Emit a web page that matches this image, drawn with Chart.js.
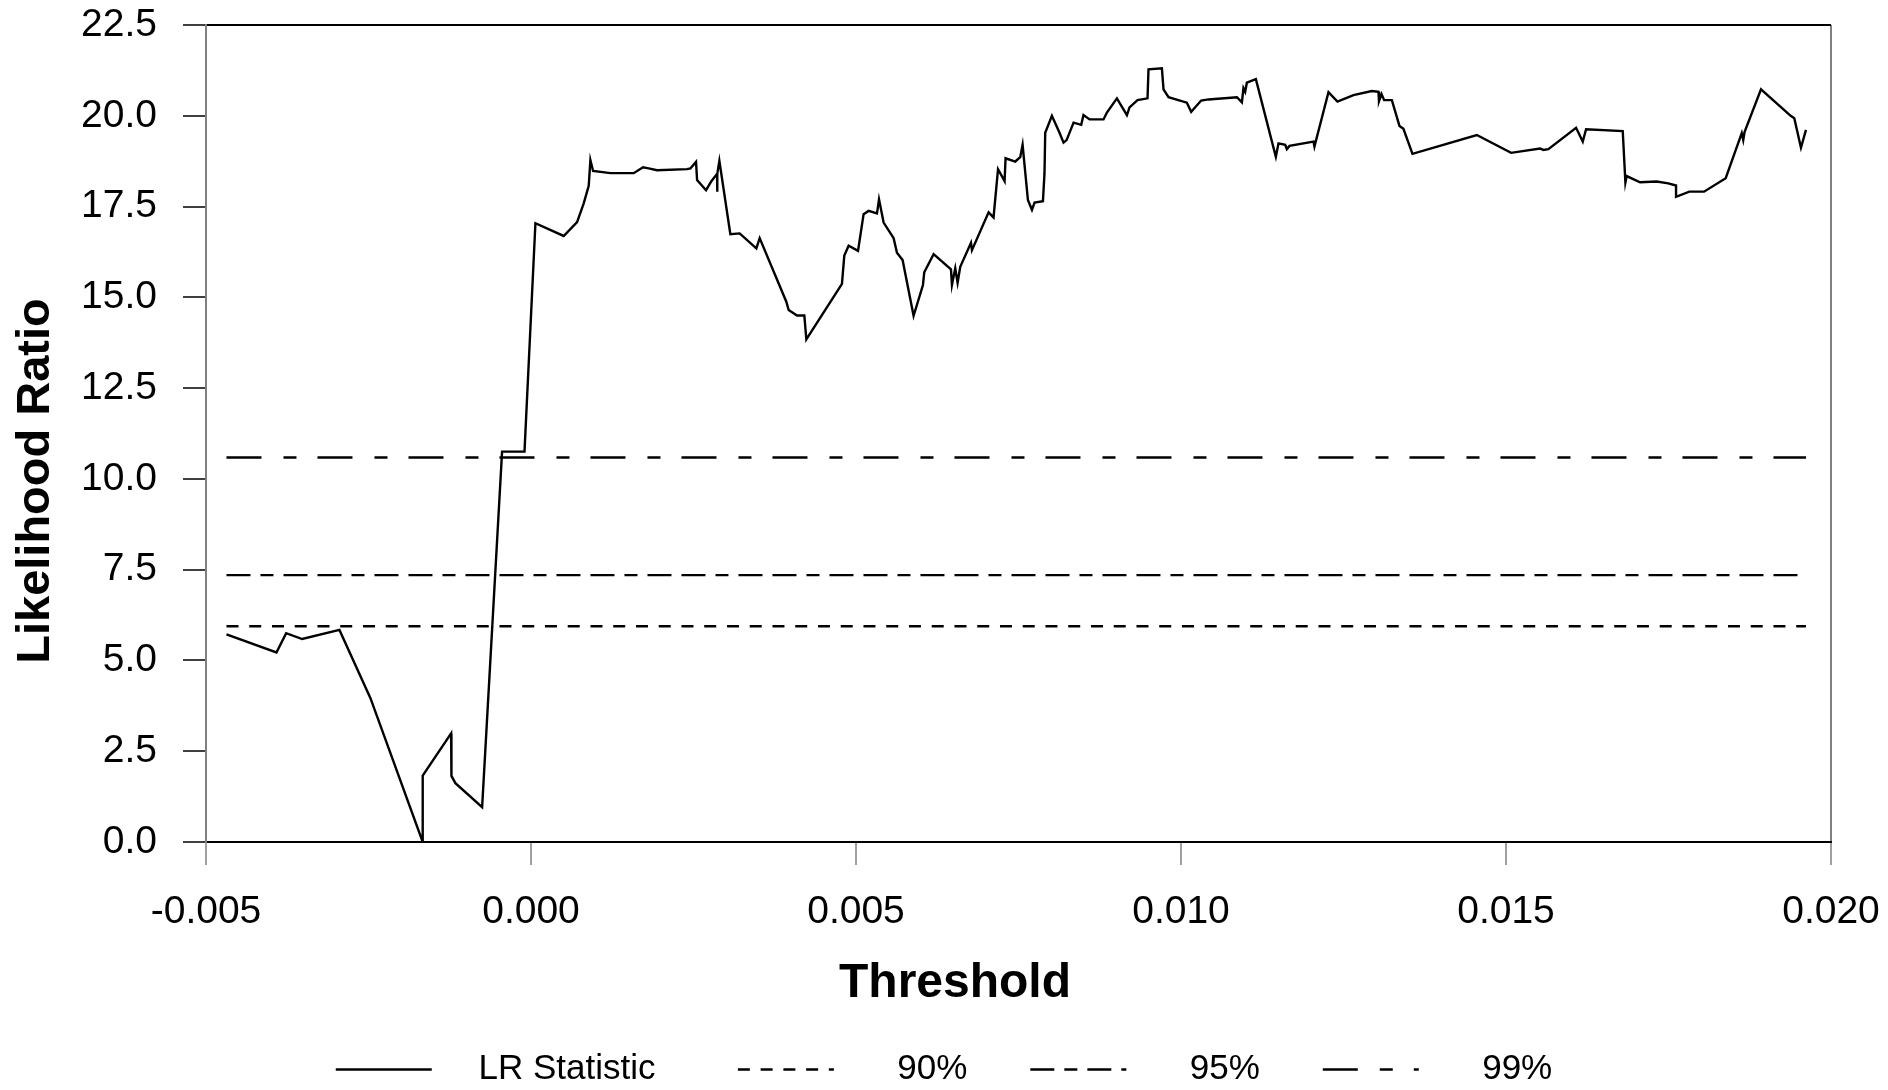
<!DOCTYPE html>
<html>
<head>
<meta charset="utf-8">
<script src="https://cdn.jsdelivr.net/npm/chart.js@4.4.1/dist/chart.umd.min.js"></script>
<style>
  html, body { margin: 0; padding: 0; background: #ffffff; }
  #wrap { width: 1888px; height: 1090px; }
</style>
</head>
<body>
<div id="wrap"><canvas id="chart" width="1888" height="1090"></canvas></div>
<script>
// ---------------- data ----------------
const thresholds = [
  -0.004685, -0.003916, -0.003767, -0.003520, -0.002947, -0.002470, -0.001666, -0.001666,
  -0.001229, -0.001224, -0.001163, -0.000752, -0.000445, -0.000100, 0.000068, 0.000503,
  0.000709, 0.000811, 0.000888, 0.000914, 0.000955, 0.001221, 0.001580, 0.001724,
  0.001810, 0.001940, 0.002401, 0.002452, 0.002539, 0.002555, 0.002693, 0.002775,
  0.002862, 0.002862, 0.002870, 0.002898, 0.003067, 0.003210, 0.003467, 0.003518,
  0.003928, 0.003964, 0.004092, 0.004205, 0.004236, 0.004784, 0.004820, 0.004887,
  0.005031, 0.005117, 0.005194, 0.005323, 0.005354, 0.005425, 0.005579, 0.005630,
  0.005717, 0.005886, 0.006030, 0.006050, 0.006194, 0.006461, 0.006476, 0.006527,
  0.006563, 0.006604, 0.006769, 0.006784, 0.007040, 0.007116, 0.007185, 0.007286,
  0.007301, 0.007450, 0.007527, 0.007563, 0.007645, 0.007707, 0.007747, 0.007876,
  0.007900, 0.007911, 0.008014, 0.008131, 0.008193, 0.008240, 0.008347, 0.008465,
  0.008500, 0.008593, 0.008808, 0.008860, 0.009014, 0.009168, 0.009208, 0.009331,
  0.009485, 0.009500, 0.009706, 0.009731, 0.009808, 0.010090, 0.010157, 0.010310,
  0.010423, 0.010860, 0.010937, 0.010961, 0.010987, 0.011013, 0.011152, 0.011459,
  0.011500, 0.011603, 0.011629, 0.011669, 0.012038, 0.012053, 0.012269, 0.012407,
  0.012653, 0.012936, 0.013038, 0.013046, 0.013085, 0.013125, 0.013244, 0.013361,
  0.013422, 0.013561, 0.014551, 0.015078, 0.015524, 0.015575, 0.015652, 0.016078,
  0.016181, 0.016232, 0.016796, 0.016837, 0.016857, 0.017062, 0.017319, 0.017497,
  0.017616, 0.017616, 0.017820, 0.018047, 0.018380, 0.018627, 0.018650, 0.018670,
  0.018923, 0.019380, 0.019435, 0.019538, 0.019615
];
const lrStatistic = [
  5.72, 5.22, 5.75, 5.59, 5.84, 3.96, 0.00, 1.83,
  2.99, 1.82, 1.62, 0.96, 10.75, 10.75, 17.04, 16.69,
  17.07, 17.59, 18.07, 18.78, 18.48, 18.42, 18.42, 18.58,
  18.55, 18.50, 18.53, 18.55, 18.73, 18.23, 17.95, 18.20,
  18.40, 17.91, 18.40, 18.76, 16.74, 16.76, 16.35, 16.63,
  14.88, 14.65, 14.50, 14.50, 13.84, 15.37, 16.15, 16.42,
  16.28, 17.29, 17.38, 17.31, 17.70, 17.06, 16.63, 16.23,
  16.03, 14.49, 15.34, 15.69, 16.19, 15.77, 15.34, 15.80,
  15.40, 15.84, 16.50, 16.30, 17.34, 17.20, 18.53, 18.20,
  18.83, 18.74, 18.86, 19.20, 17.68, 17.41, 17.61, 17.65,
  18.42, 19.53, 20.00, 19.53, 19.26, 19.33, 19.81, 19.75,
  20.02, 19.90, 19.90, 20.09, 20.48, 20.02, 20.23, 20.43,
  20.48, 21.28, 21.31, 20.73, 20.51, 20.36, 20.11, 20.42,
  20.45, 20.51, 20.37, 20.76, 20.66, 20.91, 21.01, 18.87,
  19.24, 19.20, 19.08, 19.17, 19.29, 19.15, 20.65, 20.39,
  20.57, 20.68, 20.66, 20.40, 20.60, 20.43, 20.43, 19.72,
  19.64, 18.95, 19.47, 18.98, 19.10, 19.06, 19.08, 19.67,
  19.29, 19.63, 19.58, 18.16, 18.34, 18.17, 18.19, 18.14,
  18.08, 17.77, 17.91, 17.91, 18.28, 19.52, 19.33, 19.55,
  20.73, 20.00, 19.93, 19.12, 19.61
];
const seriesLabels = ['LR Statistic', '90%', '95%', '99%'];
const criticalValues = [5.94, 7.35, 10.59];   // 90%, 95%, 99%
const xTicks = [-0.005, 0.000, 0.005, 0.010, 0.015, 0.020];
const yTicks = [0, 2.5, 5, 7.5, 10, 12.5, 15, 17.5, 20, 22.5];
const xTitle = 'Threshold';
const yTitle = 'Likelihood Ratio';

// ---------------- styles ----------------
const FONT = '"Liberation Sans", Arial, Helvetica, sans-serif';
const LINE_W = 2.4;
const dashes = [[], [12, 10.75], [24, 10, 13, 10, 24, 10], [35, 22, 13, 21]];
const legendPrefix = ['   ', '    \u2009', '    \u2009', '    \u2009'];
const legendSuffix = ['  ', '', '', ''];

Chart.defaults.font.family = FONT;
Chart.defaults.color = '#000000';

const lrPoints = thresholds.map((t, i) => ({ x: t, y: lrStatistic[i] }));
const xFirst = thresholds[0];
const xLast = thresholds[thresholds.length - 1];

const datasets = [{
  label: seriesLabels[0],
  data: lrPoints,
  borderColor: '#000000',
  backgroundColor: '#000000',
  borderWidth: LINE_W,
  borderDash: dashes[0],
  pointRadius: 0,
  tension: 0
}];
criticalValues.forEach((cv, i) => {
  datasets.push({
    label: seriesLabels[i + 1],
    data: [{ x: xFirst, y: cv }, { x: xLast, y: cv }],
    borderColor: '#000000',
    backgroundColor: '#000000',
    borderWidth: LINE_W,
    borderDash: dashes[i + 1],
    pointRadius: 0,
    tension: 0
  });
});

const axisTitles = {
  id: 'axisTitles',
  afterDraw(chart) {
    const ctx = chart.ctx;
    const a = chart.chartArea;
    ctx.save();
    ctx.fillStyle = '#000000';
    ctx.textAlign = 'center';
    ctx.textBaseline = 'alphabetic';
    ctx.font = 'bold 48px ' + FONT;
    ctx.fillText(xTitle, a.left + 749, a.bottom + 154.5);
    ctx.translate(49, a.top + 456);
    ctx.rotate(-Math.PI / 2);
    ctx.font = 'bold 47px ' + FONT;
    ctx.fillText(yTitle, 0, 0);
    ctx.restore();
  }
};

const isVal = (c, v) => c.tick && Math.abs(c.tick.value - v) < 1e-9;

new Chart(document.getElementById('chart'), {
  type: 'line',
  data: { datasets },
  options: {
    responsive: false,
    animation: false,
    devicePixelRatio: 1,
    layout: { padding: { left: 0, right: 0, top: 25, bottom: -7 } },
    plugins: {
      tooltip: { enabled: false },
      legend: {
        position: 'bottom',
        align: 'center',
        labels: {
          usePointStyle: true,
          pointStyle: 'line',
          pointStyleWidth: 96,
          padding: 63,
          color: '#000000',
          font: { size: 35, family: FONT },
          generateLabels(chart) {
            const items = Chart.defaults.plugins.legend.labels.generateLabels(chart);
            items.forEach((it, i) => {
              it.text = legendPrefix[i] + it.text + legendSuffix[i];
              it.pointStyle = 'line';
              it.lineDash = dashes[i];
              it.lineDashOffset = 0;
              it.lineWidth = LINE_W;
              it.strokeStyle = '#000000';
            });
            return items;
          }
        }
      }
    },
    scales: {
      x: {
        type: 'linear',
        min: -0.005,
        max: 0.020,
        afterBuildTicks(s) { s.ticks = xTicks.map(v => ({ value: v })); },
        afterFit(s) {
          s.height = 147;
          s.paddingLeft = 0; s.paddingRight = 57; s.paddingTop = 0; s.paddingBottom = 0;
        },
        ticks: {
          padding: 24,
          maxRotation: 0,
          autoSkip: false,
          font: { size: 39 },
          color: '#000000',
          callback: v => (Math.abs(v) < 1e-12 ? 0 : v).toFixed(3)
        },
        grid: {
          drawOnChartArea: true,
          drawTicks: true,
          tickLength: 23,
          color: c => isVal(c, 0.020) ? '#808080' : 'rgba(0,0,0,0)',
          lineWidth: 2,
          tickColor: '#808080',
          tickWidth: 1.5
        },
        border: { display: true, color: '#000000', width: 2 },
        title: { display: false, text: xTitle }
      },
      y: {
        type: 'linear',
        min: 0,
        max: 22.5,
        afterBuildTicks(s) { s.ticks = yTicks.map(v => ({ value: v })); },
        afterFit(s) {
          s.width = 206;
          s.paddingLeft = 0; s.paddingRight = 0; s.paddingTop = 0; s.paddingBottom = 0;
        },
        ticks: {
          padding: 26,
          font: { size: 39 },
          color: '#000000',
          callback: v => v.toFixed(1)
        },
        grid: {
          drawOnChartArea: true,
          drawTicks: true,
          tickLength: 23,
          color: c => isVal(c, 22.5) ? '#000000' : 'rgba(0,0,0,0)',
          lineWidth: 2,
          tickColor: '#000000',
          tickWidth: 1.5
        },
        border: { display: true, color: '#808080', width: 2 },
        title: { display: false, text: yTitle }
      }
    }
  },
  plugins: [axisTitles]
});
</script>
</body>
</html>
